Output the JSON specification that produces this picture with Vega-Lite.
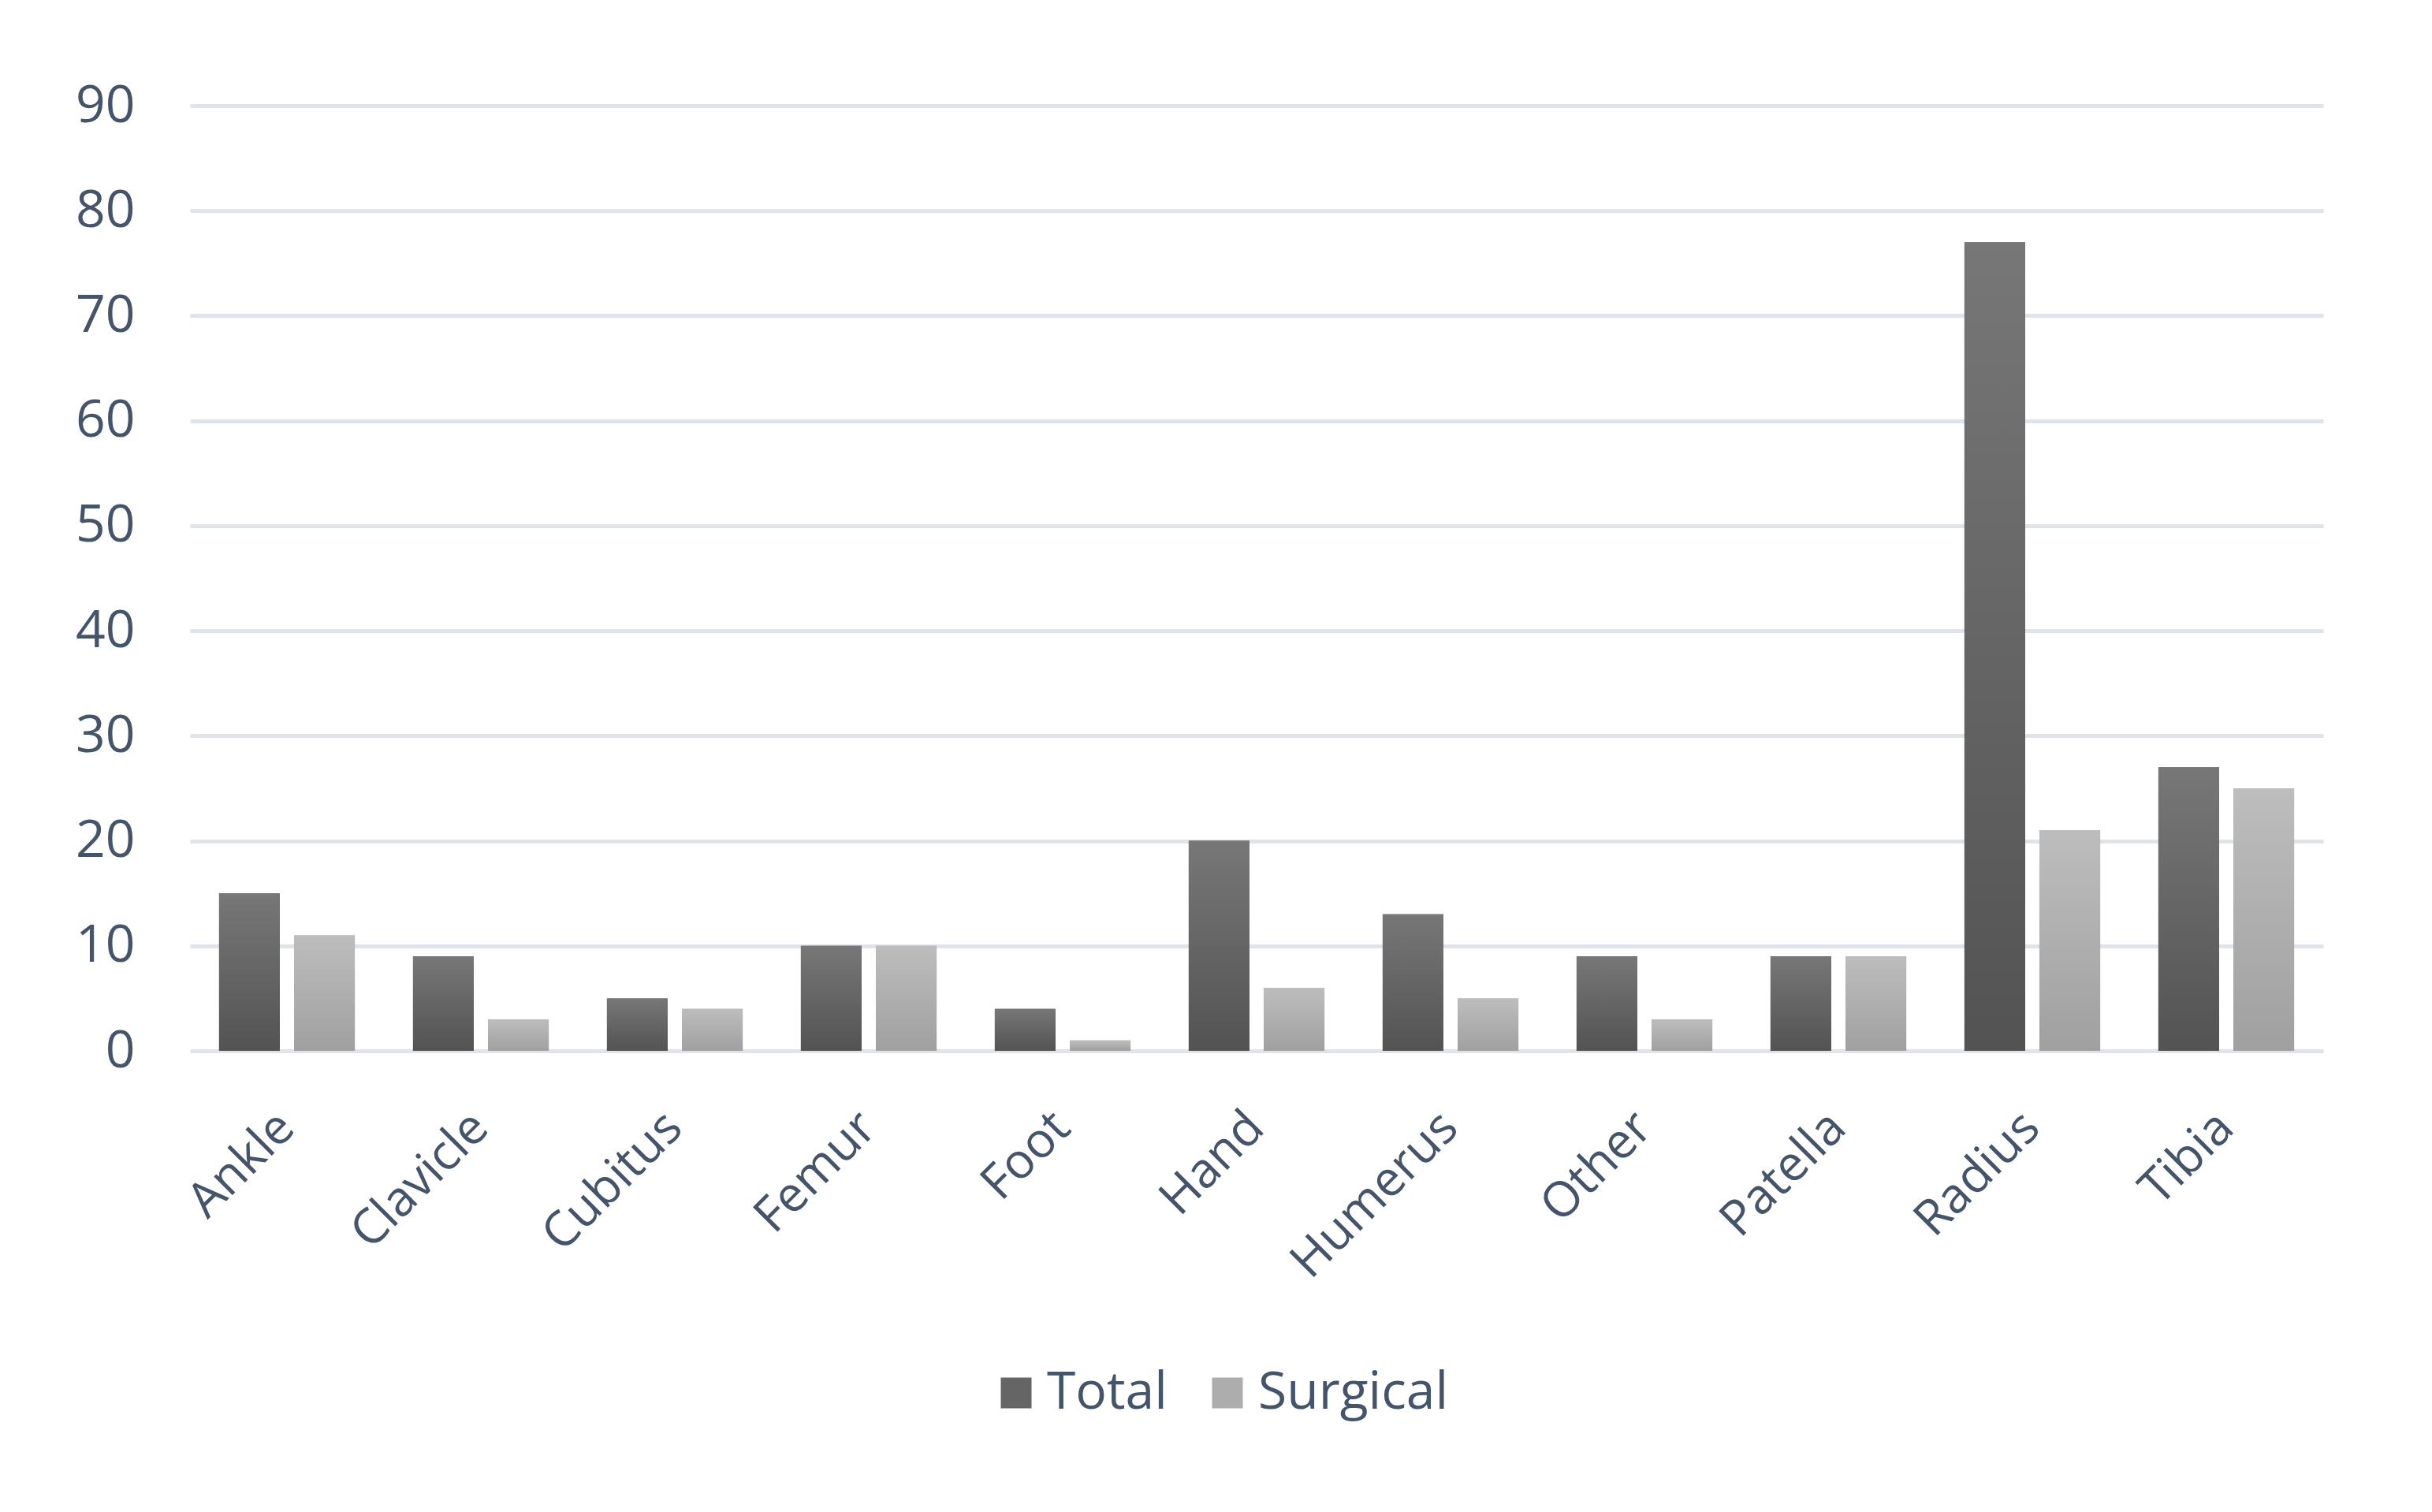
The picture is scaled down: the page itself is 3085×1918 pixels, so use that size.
{
  "$schema": "https://vega.github.io/schema/vega-lite/v6.json",
  "autosize": {"type": "none"},
  "width": 2706,
  "height": 1199,
  "padding": {"left": 241, "top": 134, "right": 138, "bottom": 585},
  "background": "white",
  "config": {"view": {"stroke": null}, "font": "Open Sans"},
  "data": {
    "values": [
      {"part": "Ankle", "series": "Total", "count": 15},
      {"part": "Ankle", "series": "Surgical", "count": 11},
      {"part": "Clavicle", "series": "Total", "count": 9},
      {"part": "Clavicle", "series": "Surgical", "count": 3},
      {"part": "Cubitus", "series": "Total", "count": 5},
      {"part": "Cubitus", "series": "Surgical", "count": 4},
      {"part": "Femur", "series": "Total", "count": 10},
      {"part": "Femur", "series": "Surgical", "count": 10},
      {"part": "Foot", "series": "Total", "count": 4},
      {"part": "Foot", "series": "Surgical", "count": 1},
      {"part": "Hand", "series": "Total", "count": 20},
      {"part": "Hand", "series": "Surgical", "count": 6},
      {"part": "Humerus", "series": "Total", "count": 13},
      {"part": "Humerus", "series": "Surgical", "count": 5},
      {"part": "Other", "series": "Total", "count": 9},
      {"part": "Other", "series": "Surgical", "count": 3},
      {"part": "Patella", "series": "Total", "count": 9},
      {"part": "Patella", "series": "Surgical", "count": 9},
      {"part": "Radius", "series": "Total", "count": 77},
      {"part": "Radius", "series": "Surgical", "count": 21},
      {"part": "Tibia", "series": "Total", "count": 27},
      {"part": "Tibia", "series": "Surgical", "count": 25}
    ]
  },
  "encoding": {
    "x": {
      "field": "part", "type": "nominal", "sort": null,
      "scale": {"paddingInner": 0.3, "paddingOuter": 0.15},
      "axis": {
        "title": null, "labelAngle": -45, "labelAlign": "right", "labelBaseline": "top",
        "labelFontSize": 62, "labelColor": "#44546a", "labelPadding": 66, "labelOffset": -22,
        "labelLimit": 0, "ticks": false, "domain": false, "grid": false, "labelFont": "Open Sans"
      }
    },
    "xOffset": {
      "field": "series", "type": "nominal", "sort": ["Total", "Surgical"],
      "scale": {"paddingInner": 0.19, "paddingOuter": 0}
    },
    "y": {
      "field": "count", "type": "quantitative",
      "scale": {"domain": [0, 90], "nice": false},
      "axis": {
        "title": null, "values": [0, 10, 20, 30, 40, 50, 60, 70, 80, 90],
        "labelFontSize": 66, "labelColor": "#44546a", "labelPadding": 70,
        "labelFont": "Open Sans", "ticks": false, "domain": false,
        "grid": true, "gridColor": "#dfe3ea", "gridWidth": 5
      }
    }
  },
  "layer": [
    {
      "mark": {"type": "bar"},
      "encoding": {
        "color": {
          "field": "series", "type": "nominal",
          "scale": {"domain": ["Total", "Surgical"], "range": ["#656565", "#adadad"]},
          "legend": {
            "title": null, "orient": "none", "legendX": 1015, "legendY": 1600,
            "direction": "horizontal", "symbolType": "square", "symbolSize": 1521,
            "labelFontSize": 66, "labelColor": "#44546a", "labelFont": "Open Sans",
            "labelOffset": 6, "labelLimit": 0, "columnPadding": 43, "padding": 0, "symbolStrokeWidth": 0
          }
        }
      }
    },
    {
      "mark": {"type": "bar"},
      "encoding": {
        "fill": {
          "condition": {
            "test": "datum.series === 'Total'",
            "value": {"gradient": "linear", "x1": 0, "y1": 0, "x2": 0, "y2": 1, "stops": [{"offset": 0, "color": "#777777"}, {"offset": 1, "color": "#535353"}]}
          },
          "value": {"gradient": "linear", "x1": 0, "y1": 0, "x2": 0, "y2": 1, "stops": [{"offset": 0, "color": "#bdbdbd"}, {"offset": 1, "color": "#a0a0a0"}]}
        }
      }
    }
  ]
}
